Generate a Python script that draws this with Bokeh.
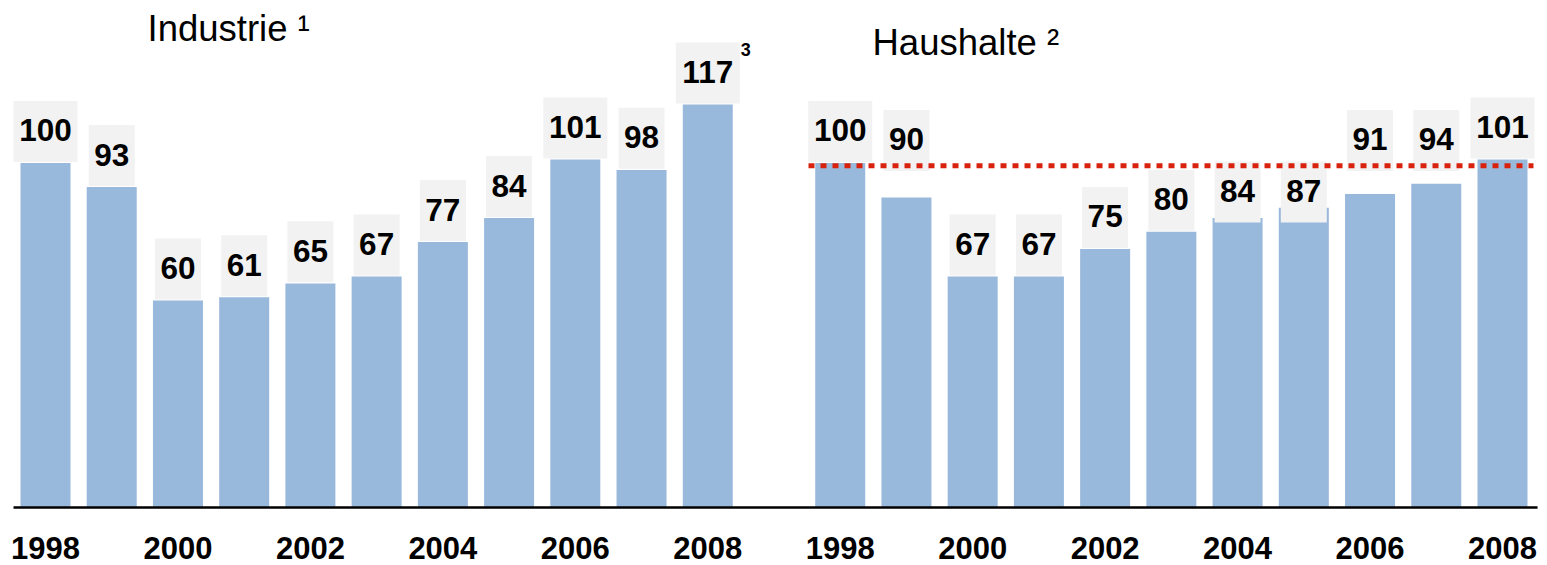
from bokeh.plotting import figure
from bokeh.models import ColumnDataSource, Range1d
from bokeh.core.properties import value
from bokeh.embed import file_html
from bokeh.resources import INLINE

# ---------------- data ----------------
years = [1998, 1999, 2000, 2001, 2002, 2003, 2004, 2005, 2006, 2007, 2008]
industrie = [100, 93, 60, 61, 65, 67, 77, 84, 101, 98, 117]
haushalte = [100, 90, 67, 67, 75, 80, 84, 87, 91, 94, 101]
tick_years = [1998, 2000, 2002, 2004, 2006, 2008]
group_titles = ["Industrie \u00b9", "Haushalte \u00b2"]
footnote_label = "3"          # footnote attached to the Industrie 2008 value
reference_level = 100         # dotted reference line (Haushalte)

# ---------------- layout constants ----------------
W, H = 1547, 565
PX_X = 66.227                 # pixels per category slot
PX_Y = 3.44                   # pixels per index point
X0 = -45 / PX_X
Y1 = 506.5 / PX_Y
Y0 = -(H - 506.5) / PX_Y
FONT = value("Liberation Sans")
BAR_COLOR = "#99b9dc"
BOX_COLOR = "#f2f2f2"
RED = "#d9220e"

n = len(years)
x_ind = [i for i in range(n)]
x_hh = [n + 1 + i for i in range(n)]

p = figure(width=W, height=H, output_backend="svg", toolbar_location=None,
           x_range=Range1d(X0, X0 + W / PX_X), y_range=Range1d(Y0, Y1),
           min_border=0, outline_line_color=None)
p.xaxis.visible = False
p.yaxis.visible = False
p.grid.visible = False
p.background_fill_color = "white"
p.border_fill_color = "white"

bar_w = 50 / PX_X
box_h = 61 / PX_Y

xs = x_ind + x_hh
vals = industrie + haushalte
grp = [0] * n + [1] * n

# bars
p.vbar(x=xs, top=vals, bottom=0, width=bar_w, fill_color=BAR_COLOR, line_color=None)


def label_bottom(v, g):
    if g == 1 and reference_level - 18.5 < v < reference_level:
        if v >= 89:
            return reference_level - 2.3
        return reference_level + 0.4 - box_h
    return v + 0.3


bottoms = [label_bottom(v, g) for v, g in zip(vals, grp)]
half = [((64 if len(str(v)) >= 3 else 46) / 2) / PX_X for v in vals]
src = ColumnDataSource(dict(
    left=[x - h for x, h in zip(xs, half)],
    right=[x + h for x, h in zip(xs, half)],
    bottom=bottoms,
    top=[b + box_h for b in bottoms],
    x=xs,
    ty=[b + 31.5 / PX_Y for b in bottoms],
    txt=[str(v) for v in vals],
))
p.quad(left="left", right="right", bottom="bottom", top="top", source=src,
       fill_color=BOX_COLOR, line_color=None)
p.text(x="x", y="ty", text="txt", source=src, text_font=FONT, text_font_style="bold",
       text_font_size="31.5px", text_align="center", text_baseline="middle",
       text_color="black")

# footnote on Industrie 2008
i_last = n - 1
p.text(x=[x_ind[i_last] + half[i_last] + 0.015],
       y=[bottoms[i_last] + box_h - 2.0],
       text=[footnote_label], text_font=FONT, text_font_style="bold",
       text_font_size="18px", text_align="left", text_baseline="middle",
       text_color="black")

# group titles
p.text(x=[1.54, 12.487], y=[139.0, 134.9], text=group_titles, text_font=FONT,
       text_font_size="36.5px", text_align="left", text_baseline="middle",
       text_color="black")

# baseline
p.segment(x0=[x_ind[0] - 0.483], y0=[-0.15], x1=[x_hh[-1] + 0.529], y1=[-0.15],
          line_color="black", line_width=2.5)

# tick labels
tick_x = [x_ind[years.index(y)] for y in tick_years] + [x_hh[years.index(y)] for y in tick_years]
tick_t = [str(y) for y in tick_years] * 2
p.text(x=tick_x, y=[(506.5 - 547.5) / PX_Y] * len(tick_x), text=tick_t, text_font=FONT,
       text_font_style="bold", text_font_size="31px", text_align="center",
       text_baseline="middle", text_color="black")

# reference dotted line over Haushalte
p.segment(x0=[x_hh[0] - 0.479], y0=[reference_level - 0.8],
          x1=[x_hh[-1] + 0.468], y1=[reference_level - 0.8],
          line_color=RED, line_width=5, line_dash="6 6", line_cap="butt")

open("out.html", "w").write(file_html(p, INLINE))
